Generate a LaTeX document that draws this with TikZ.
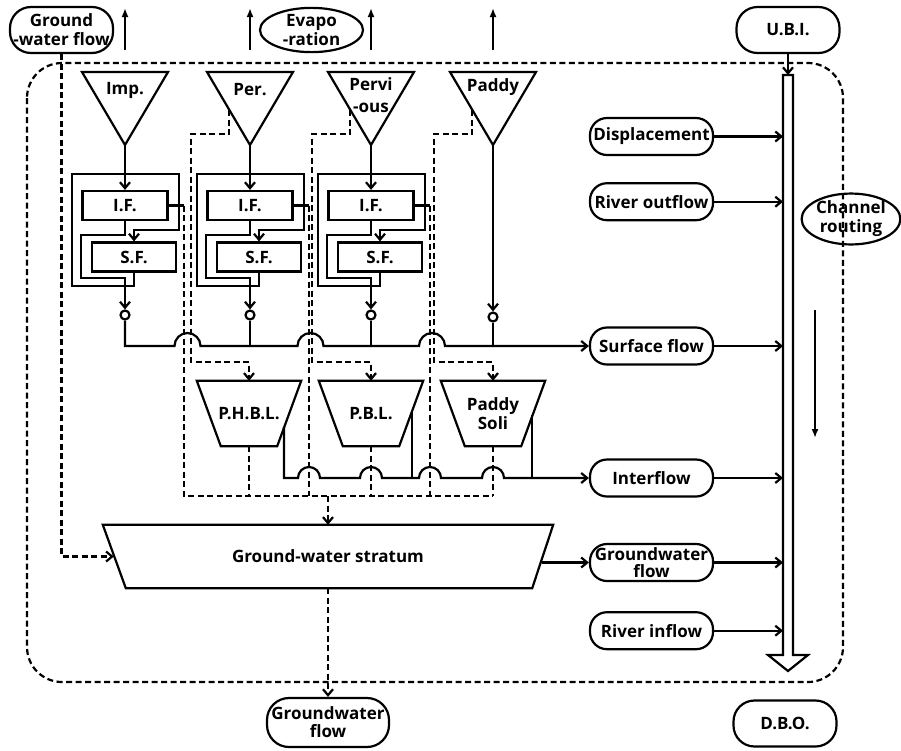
\documentclass[tikz,border=0pt]{standalone}
\usepackage{fontspec}
\setmainfont{Open Sans}
\usetikzlibrary{shapes.geometric, arrows.meta, positioning, calc}
\tikzset{
  line/.style={line width=2.2pt},
  arrow/.style={line, -{Straight Barb[length=6pt,width=10pt]}},
  perc/.style={line, dash pattern=on 6pt off 3.5pt},
  percarrow/.style={perc, -{Straight Barb[length=6pt,width=10pt]}},
  evap/.style={line, -{Latex[length=9pt,width=7pt]}},
  pill/.style={
    draw, line, rounded corners=17pt,
    minimum width=123pt, minimum height=37pt,
    inner sep=0pt, align=center,
  },
  terminal/.style={pill, rounded corners=21pt, minimum width=103pt, minimum height=46pt},
  cloud/.style={
    draw, line, ellipse,
    minimum width=103pt, minimum height=44pt,
    inner sep=0pt, align=center,
  },
  store/.style={draw, line, minimum width=85pt, minimum height=29pt, inner sep=0pt},
  soil/.style={minimum width=104pt, minimum height=65pt, inner sep=0pt, align=center},
  outlet/.style={draw, line, circle, minimum size=9pt, inner sep=0pt},
}
\begin{document}
\begin{tikzpicture}[x=1pt,y=-1pt,every node/.style={font=\bfseries\fontsize{17}{19}\selectfont}]
  \useasboundingbox (0,0) rectangle (901,750);
  % basin boundary
  \draw[perc, rounded corners=35pt] (27,63) rectangle (843,682);

  % outside terms
  \node[terminal] (gwl) at (61.5,30) {Ground\\-water flow};
  \node[cloud] (evap) at (311.5,30) {Evapo\\-ration};
  \node[terminal] (ubi) at (788,30) {U.B.I.};
  \node[terminal] (dbo) at (785,723.5) {D.B.O.};
  \node[pill, minimum width=122pt, minimum height=49pt, rounded corners=22pt, font=\bfseries\fontsize{17}{18}\selectfont] (gwb) at (328,722.5) {Groundwater\\flow};

  % land use
  \node (imp) at (125,90) {Imp.};
  \draw[line] (82,72) -- (168,72) -- (125,145) coordinate (impA) -- cycle;
  \node (per) at (250,90) {Per.};
  \draw[line] (207,72) -- (293,72) -- (250,145) coordinate (perA) -- cycle;
  \node[align=center, font=\bfseries\fontsize{17}{22}\selectfont] (pvs) at (371,95) {Pervi\\-ous};
  \draw[line] (328,72) -- (414,72) -- (371,145) coordinate (pvsA) -- cycle;
  \node (pad) at (493,87) {Paddy};
  \draw[line] (450,72) -- (536,72) -- (493,145) coordinate (padA) -- cycle;

  \draw[evap] (imp |- 0,50) -- (imp |- 0,8);
  \draw[evap] (per |- 0,50) -- (per |- 0,8);
  \draw[evap] (pvs |- 0,50) -- (pvs |- 0,8);
  \draw[evap] (pad |- 0,50) -- (pad |- 0,8);

  % surface tanks
  \node[store] (if1) at (125,205.5) {I.F.};
  \node[store, minimum width=84pt] (sf1) at (134,257) {S.F.};
  \node[outlet] (o1) at (125,315) {};
  \draw[arrow] (impA) -- (if1);
  \draw[arrow] (sf1.south) |- (72,286) |- (179,174) |- (sf1.north |- 0,230) -- (sf1.north);
  \draw[arrow] (if1.south) |- (81,235) |- (125,278) -- (o1);
  \draw[line] (if1.east) -- (184,205.5);

  \node[store] (if2) at (250,205.5) {I.F.};
  \node[store, minimum width=84pt] (sf2) at (259,257) {S.F.};
  \node[outlet] (o2) at (250,315) {};
  \draw[arrow] (perA) -- (if2);
  \draw[arrow] (sf2.south) |- (197,286) |- (304,174) |- (sf2.north |- 0,230) -- (sf2.north);
  \draw[arrow] (if2.south) |- (206,235) |- (250,278) -- (o2);
  \draw[line] (if2.east) -- (309,205.5);

  \node[store] (if3) at (371,205.5) {I.F.};
  \node[store, minimum width=84pt] (sf3) at (380,257) {S.F.};
  \node[outlet] (o3) at (371,315) {};
  \draw[arrow] (pvsA) -- (if3);
  \draw[arrow] (sf3.south) |- (318,286) |- (425,174) |- (sf3.north |- 0,230) -- (sf3.north);
  \draw[arrow] (if3.south) |- (327,235) |- (371,278) -- (o3);
  \draw[line] (if3.east) -- (430,205.5);

  \node[outlet] (o4) at (493,317) {};
  \draw[arrow] (padA) -- (o4);

  % subsurface tanks
  \node[soil] (phbl) at (249,413.5) {P.H.B.L.};
  \draw[line] (phbl.north west) -- (phbl.north east) -- ([xshift=-24pt]phbl.south east) -- ([xshift=24pt]phbl.south west) -- cycle;
  \node[soil] (pbl) at (371,413.5) {P.B.L.};
  \draw[line] (pbl.north west) -- (pbl.north east) -- ([xshift=-24pt]pbl.south east) -- ([xshift=24pt]pbl.south west) -- cycle;
  \node[soil] (psoil) at (493,413.5) {Paddy\\Soli};
  \draw[line] (psoil.north west) -- (psoil.north east) -- ([xshift=-24pt]psoil.south east) -- ([xshift=24pt]psoil.south west) -- cycle;
  \node[soil, minimum width=450pt, minimum height=63pt] (gws) at (328,556.5) {Ground-water stratum};
  \draw[line] (gws.north west) -- (gws.north east) -- ([xshift=-21pt]gws.south east) -- ([xshift=23pt]gws.south west) -- cycle;
  \coordinate (gwsE) at ([xshift=-11pt]gws.east);

  % channel
  \node[pill] (disp) at (651.5,136.5) {Displacement};
  \node[pill, below=26pt of disp] (rout) {River outflow};
  \node[pill] (surf) at (651.5,346) {Surface flow};
  \node[pill] (intf) at (651.5,478) {Interflow};
  \node[pill, font=\bfseries\fontsize{17}{17}\selectfont] (gwr) at (651.5,562.5) {Groundwater\\flow};
  \node[pill, below=29pt of gwr] (rin) {River inflow};
  \node[cloud, minimum width=98pt, minimum height=48pt] (route) at (851,219) {Channel\\routing};

  \coordinate (chan) at (783,75);
  \draw[line] (chan) -- (793,75) -- (793,655) -- (808,655) -- (788,671) -- (768,655) -- (783,655) -- cycle;
  \draw[arrow] (ubi) -- (ubi |- chan);
  \draw[arrow] (disp) -- (disp -| chan);
  \draw[arrow] (rout) -- (rout -| chan);
  \draw[arrow] (surf) -- (surf -| chan);
  \draw[arrow] (intf) -- (intf -| chan);
  \draw[arrow] (gwr) -- (gwr -| chan);
  \draw[arrow] (rin) -- (rin -| chan);
  \coordinate (down) at (815,310);
  \draw[evap] (down) -- ++(0,128);

  % percolation
  \draw[perc] (184,205.5) |- (psoil.south |- 0,496);
  \draw[perc] (309,205.5) -- (309,496);
  \draw[perc] (430,205.5) -- (430,496);
  \draw[perc] (phbl.south) -- (phbl |- 0,496);
  \draw[perc] (pbl.south) -- (pbl |- 0,496);
  \draw[perc] (psoil.south) -- (psoil |- 0,496);
  \draw[percarrow] (229,110) |- (191,134) |- (phbl |- 0,362) -- (phbl.north);
  \draw[percarrow] (350,110) |- (312,134) |- (pbl |- 0,362) -- (pbl.north);
  \draw[percarrow] (472,110) |- (434,134) |- (psoil |- 0,362) -- (psoil.north);
  \draw[percarrow] (gws |- 0,496) -- (gws.north);
  \draw[percarrow] (gwl) |- ([xshift=11pt]gws.west);
  \draw[percarrow] (gws) -- (gwb);

  % surface flow
  \draw[arrow] (o1) |- (174.5,346) arc[start angle=180, end angle=0, radius=13pt]
    -- (297.5,346) arc[start angle=180, end angle=0, radius=13pt]
    -- (419,346) arc[start angle=180, end angle=0, radius=13pt] -- (surf);
  \draw[line] (o2) -- (o2 |- surf);
  \draw[line] (o3) -- (o3 |- surf);
  \draw[line] (o4) -- (o4 |- surf);

  % interflow
  \draw[arrow] (284,427) |- (298,478) arc[start angle=180, end angle=0, radius=11pt]
    -- (360,478) arc[start angle=180, end angle=0, radius=11pt]
    -- (419,478) arc[start angle=180, end angle=0, radius=11pt]
    -- (482,478) arc[start angle=180, end angle=0, radius=11pt] -- (intf);
  \draw[line] (412,410) -- (412,478);
  \draw[line] (532,415) -- (532,478);

  % groundwater flow
  \draw[arrow] (gwr -| gwsE) -- (gwr);
\end{tikzpicture}
\end{document}
